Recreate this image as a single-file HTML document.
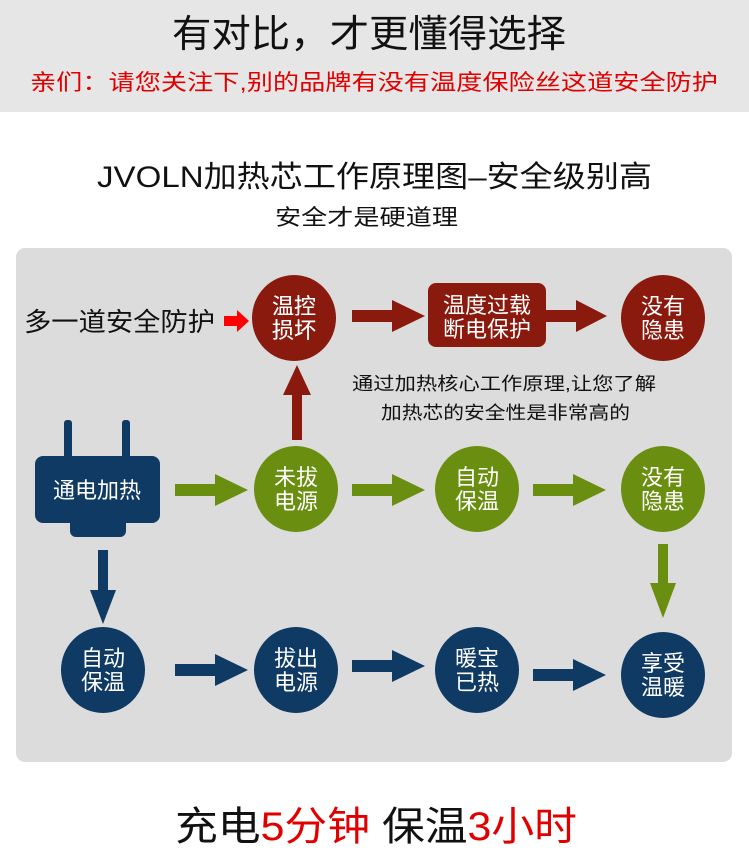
<!DOCTYPE html>
<html><head><meta charset="utf-8"><style>
html,body{margin:0;padding:0;background:#fff;}
body{width:749px;height:849px;overflow:hidden;font-family:"Liberation Sans","Noto Sans CJK SC",sans-serif;}
</style></head><body>
<svg width="749" height="849" viewBox="0 0 749 849" xmlns="http://www.w3.org/2000/svg" font-family="Liberation Sans, Noto Sans CJK SC, sans-serif">
<rect x="0" y="0" width="749" height="112" fill="#e6e6e6"/>
<text x="172" y="47" font-size="38" textLength="394" lengthAdjust="spacingAndGlyphs" fill="#111">有对比，才更懂得选择</text>
<text x="30" y="90" font-size="22" textLength="688" lengthAdjust="spacingAndGlyphs" fill="#e00000">亲们：请您关注下,别的品牌有没有温度保险丝这道安全防护</text>
<text x="97" y="187" font-size="30" textLength="555" lengthAdjust="spacingAndGlyphs" fill="#111">JVOLN加热芯工作原理图–安全级别高</text>
<text x="275" y="225" font-size="22" textLength="183" lengthAdjust="spacingAndGlyphs" fill="#111">安全才是硬道理</text>
<rect x="16" y="248" width="716" height="514" rx="9" fill="#dcdcdc"/>

<text x="24" y="331" font-size="26" textLength="191" lengthAdjust="spacingAndGlyphs" fill="#111">多一道安全防护</text>
<polygon points="224,316 237,316 237,310 249,321 237,332 237,326 224,326" fill="#f00"/>
<ellipse cx="294" cy="318" rx="42" ry="43" fill="#8b1a0e"/>
<g font-size="22" text-anchor="middle" fill="#fff">
<text x="294" y="314">温控</text><text x="294" y="338">损坏</text>
<text x="487" y="313">温度过载</text><text x="487" y="337">断电保护</text>
<text x="663" y="314">没有</text><text x="663" y="338">隐患</text>
<text x="97" y="498">通电加热</text>
<text x="296" y="485">未拔</text><text x="296" y="509">电源</text>
<text x="477" y="485">自动</text><text x="477" y="509">保温</text>
<text x="663" y="485">没有</text><text x="663" y="509">隐患</text>
<text x="103" y="666">自动</text><text x="103" y="690">保温</text>
<text x="296" y="666">拔出</text><text x="296" y="690">电源</text>
<text x="477" y="666">暖宝</text><text x="477" y="690">已热</text>
<text x="663" y="671">享受</text><text x="663" y="695">温暖</text>
</g>
<polygon points="352,310 392,310 392,300 425,316 392,332 392,322 352,322" fill="#8b1a0e"/>
<rect x="428" y="283" width="118" height="64" rx="8" fill="#8b1a0e" fill-opacity="1"/>
<text x="487" y="313" font-size="22" text-anchor="middle" fill="#fff">温度过载</text>
<text x="487" y="337" font-size="22" text-anchor="middle" fill="#fff">断电保护</text>
<polygon points="546,310 576,310 576,300 607,316 576,332 576,322 546,322" fill="#8b1a0e"/>
<ellipse cx="663" cy="318" rx="42" ry="43" fill="#8b1a0e"/>
<text x="663" y="314" font-size="22" text-anchor="middle" fill="#fff">没有</text>
<text x="663" y="338" font-size="22" text-anchor="middle" fill="#fff">隐患</text>
<text x="294" y="314" font-size="22" text-anchor="middle" fill="#fff">温控</text>
<text x="294" y="338" font-size="22" text-anchor="middle" fill="#fff">损坏</text>
<polygon points="292,440 302,440 302,395 311,395 297,365 283,395 292,395" fill="#8b1a0e"/>
<text x="352" y="390" font-size="18" textLength="304" lengthAdjust="spacingAndGlyphs" fill="#111">通过加热核心工作原理,让您了解</text>
<text x="381" y="419" font-size="18" textLength="249" lengthAdjust="spacingAndGlyphs" fill="#111">加热芯的安全性是非常高的</text>

<rect x="64" y="420" width="8" height="40" rx="3" fill="#0f3a63"/>
<rect x="122" y="420" width="8" height="40" rx="3" fill="#0f3a63"/>
<rect x="35" y="456" width="125" height="67" rx="8" fill="#0f3a63"/>
<rect x="70" y="515" width="56" height="22" rx="6" fill="#0f3a63"/>
<text x="97" y="498" font-size="22" text-anchor="middle" fill="#fff">通电加热</text>

<polygon points="175,484 215,484 215,474 248,490 215,506 215,496 175,496" fill="#6a8f10"/>
<ellipse cx="296" cy="489" rx="42" ry="43" fill="#6a8f10"/>
<text x="296" y="485" font-size="22" text-anchor="middle" fill="#fff">未拔</text>
<text x="296" y="509" font-size="22" text-anchor="middle" fill="#fff">电源</text>
<polygon points="352,484 392,484 392,474 425,490 392,506 392,496 352,496" fill="#6a8f10"/>
<ellipse cx="477" cy="489" rx="42" ry="43" fill="#6a8f10"/>
<text x="477" y="485" font-size="22" text-anchor="middle" fill="#fff">自动</text>
<text x="477" y="509" font-size="22" text-anchor="middle" fill="#fff">保温</text>
<polygon points="533,484 573,484 573,474 606,490 573,506 573,496 533,496" fill="#6a8f10"/>
<ellipse cx="663" cy="489" rx="42" ry="43" fill="#6a8f10"/>
<text x="663" y="485" font-size="22" text-anchor="middle" fill="#fff">没有</text>
<text x="663" y="509" font-size="22" text-anchor="middle" fill="#fff">隐患</text>
<polygon points="658,544 668,544 668,583 676,583 663,618 650,583 658,583" fill="#6a8f10"/>

<polygon points="98,550 108,550 108,590 116,590 103,624 90,590 98,590" fill="#0f3a63"/>
<ellipse cx="103" cy="670" rx="42" ry="43" fill="#0f3a63"/>
<text x="103" y="666" font-size="22" text-anchor="middle" fill="#fff">自动</text>
<text x="103" y="690" font-size="22" text-anchor="middle" fill="#fff">保温</text>
<polygon points="175,664 215,664 215,654 248,670 215,686 215,676 175,676" fill="#0f3a63"/>
<ellipse cx="296" cy="670" rx="42" ry="43" fill="#0f3a63"/>
<text x="296" y="666" font-size="22" text-anchor="middle" fill="#fff">拔出</text>
<text x="296" y="690" font-size="22" text-anchor="middle" fill="#fff">电源</text>
<polygon points="352,660 392,660 392,650 425,666 392,682 392,672 352,672" fill="#0f3a63"/>
<ellipse cx="477" cy="670" rx="42" ry="43" fill="#0f3a63"/>
<text x="477" y="666" font-size="22" text-anchor="middle" fill="#fff">暖宝</text>
<text x="477" y="690" font-size="22" text-anchor="middle" fill="#fff">已热</text>
<polygon points="533,669 573,669 573,659 606,675 573,691 573,681 533,681" fill="#0f3a63"/>
<ellipse cx="663" cy="675" rx="42" ry="43" fill="#0f3a63"/>
<text x="663" y="671" font-size="22" text-anchor="middle" fill="#fff">享受</text>
<text x="663" y="695" font-size="22" text-anchor="middle" fill="#fff">温暖</text>

<text x="175" y="840" font-size="40" textLength="402" lengthAdjust="spacingAndGlyphs" fill="#111">充电<tspan fill="#e00000">5分钟</tspan> 保温<tspan fill="#e00000">3小时</tspan></text>
</svg>
</body></html>
